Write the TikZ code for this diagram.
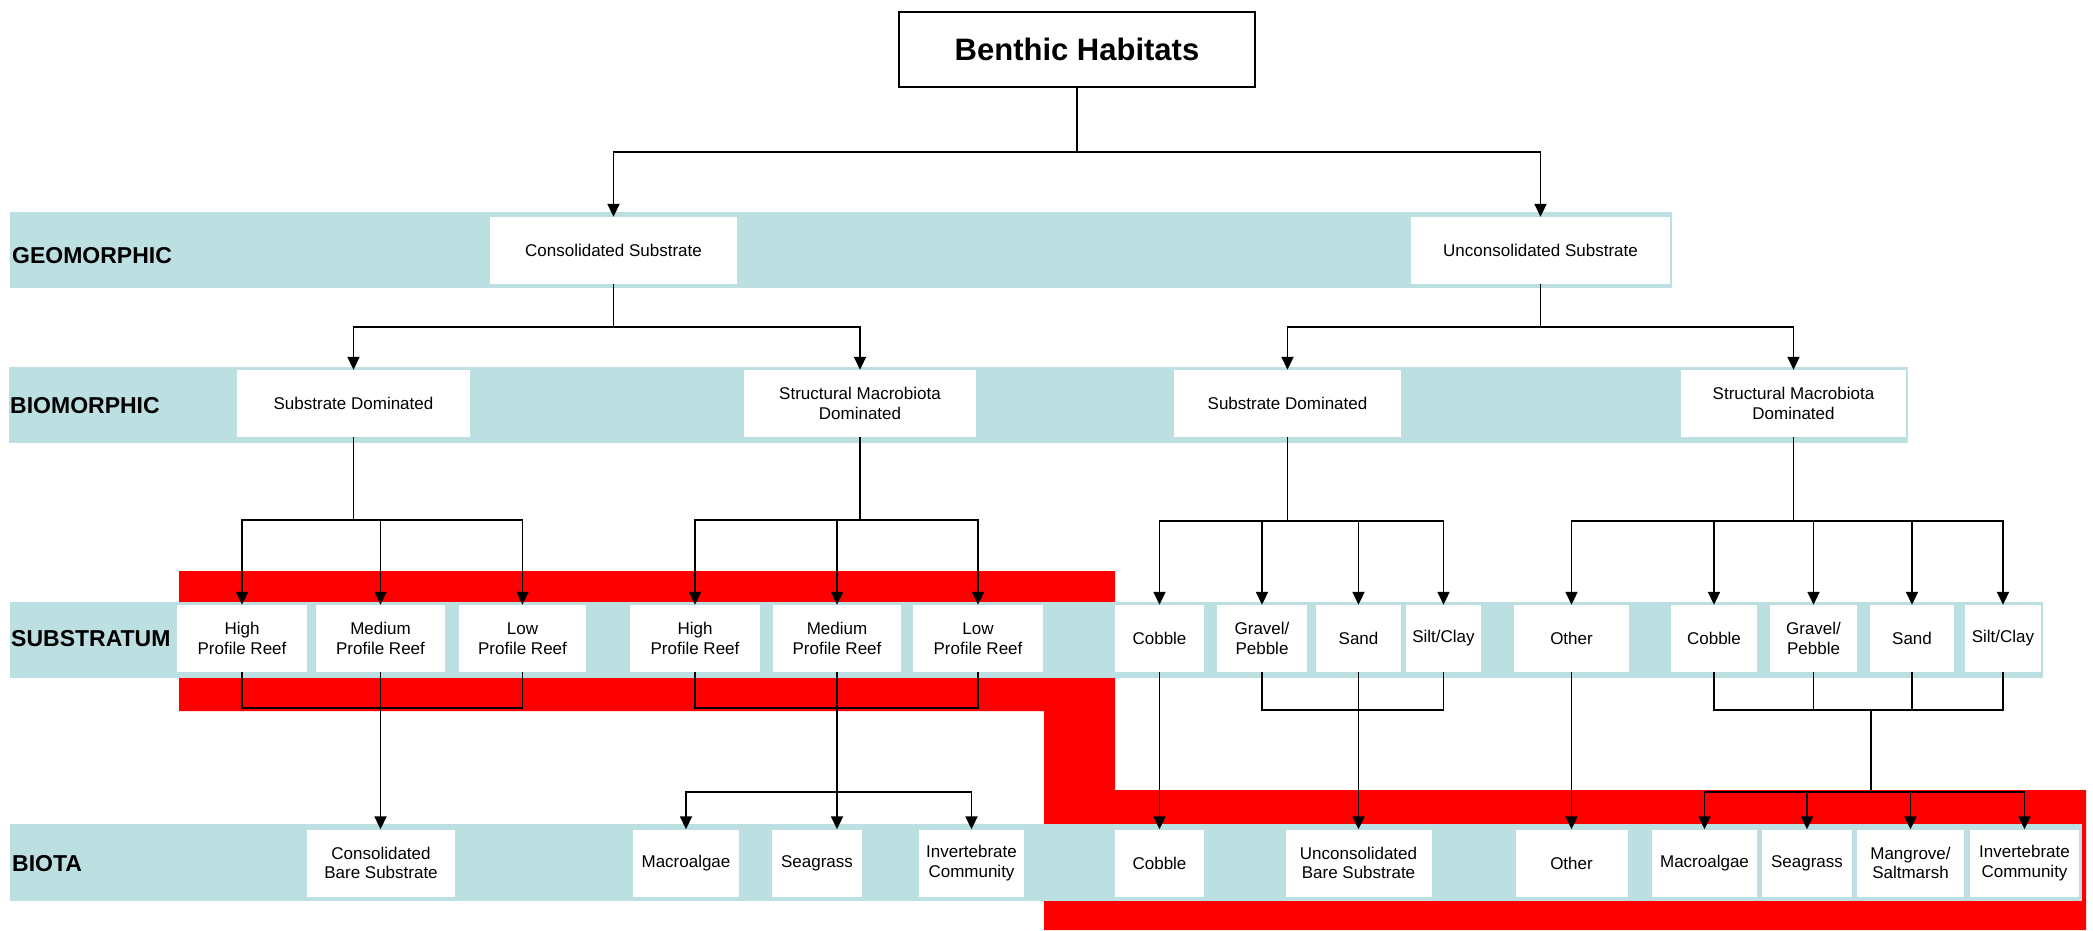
\documentclass[tikz,border=0pt]{standalone}
\usepackage{fontspec}
\setmainfont{Liberation Sans}
\usepackage{tikz}
\usetikzlibrary{arrows.meta, calc}
\definecolor{bandcolor}{RGB}{188,223,226}
\definecolor{redzone}{RGB}{255,0,0}

\begin{document}
\begin{tikzpicture}[
    x=1pt, y=-1pt,
    band/.style={fill=bandcolor, draw=none},
    level/.style={anchor=west, inner sep=0pt, font=\fontsize{23}{27}\selectfont\bfseries},
    class/.style={fill=white, inner sep=0pt, minimum height=67pt, align=center, font=\fontsize{17}{19.5}\selectfont},
    arrow/.style={-{Triangle[length=13pt, width=12pt]}, line width=1.8pt},
    link/.style={line width=1.8pt}
]
    \useasboundingbox (0,0) rectangle (2093,930);

    % Highlighted zone
    \fill[redzone] (179,571) -- (1115,571) -- (1115,790) -- (2086,790) -- (2086,930)
        -- (1044,930) -- (1044,711) -- (179,711) -- cycle;

    % Level bands
    \fill[band] (10,212) rectangle (1672,288);
    \fill[band] (9,367) rectangle (1908,443);
    \fill[band] (10,602) rectangle (2043,678);
    \fill[band] (10,824) rectangle (2082,901);

    \node[level] (geo) at (12,256) {GEOMORPHIC};
    \node[level] (bio) at (10,406) {BIOMORPHIC};
    \node[level] (substr) at (11,639) {SUBSTRATUM};
    \node[level] (biota) at (12,864) {BIOTA};

    % Root
    \node[draw, line width=1.8pt, fill=white, minimum width=356pt, minimum height=75pt,
        font=\fontsize{31}{36}\selectfont\bfseries] (title) at (1077,49.5) {Benthic Habitats};

    % Geomorphic classes
    \node[class, minimum width=247pt] (cons) at (613.5,250.5) {Consolidated Substrate};
    \node[class, minimum width=259pt] (uncons) at (1540.5,250.5) {Unconsolidated Substrate};

    % Biomorphic classes
    \node[class, minimum width=233pt] (subL) at (353.5,403.5) {Substrate Dominated};
    \node[class, minimum width=232pt] (strL) at (860,403.5) {Structural Macrobiota\\Dominated};
    \node[class, minimum width=227pt] (subR) at (1287.5,403.5) {Substrate Dominated};
    \node[class, minimum width=225pt] (strR) at (1793.5,403.5) {Structural Macrobiota\\Dominated};

    % Substratum classes
    \node[class, minimum width=130pt] (highA) at (242,638.5) {High\\Profile Reef};
    \node[class, minimum width=129pt] (medA) at (380.5,638.5) {Medium\\Profile Reef};
    \node[class, minimum width=127pt] (lowA) at (522.5,638.5) {Low\\Profile Reef};
    \node[class, minimum width=130pt] (highB) at (695,638.5) {High\\Profile Reef};
    \node[class, minimum width=128pt] (medB) at (837,638.5) {Medium\\Profile Reef};
    \node[class, minimum width=130pt] (lowB) at (978,638.5) {Low\\Profile Reef};
    \node[class, minimum width=89pt] (cobA) at (1159.5,638.5) {Cobble};
    \node[class, minimum width=90pt] (gravA) at (1262,638.5) {Gravel/\\Pebble};
    \node[class, minimum width=85pt] (sandA) at (1358.5,638.5) {Sand};
    \node[class, minimum width=75pt] (siltA) at (1443.5,638.5) {Silt/Clay};
    \node[class, minimum width=115pt] (othA) at (1571.5,638.5) {Other};
    \node[class, minimum width=86pt] (cobB) at (1714,638.5) {Cobble};
    \node[class, minimum width=87pt] (gravB) at (1813.5,638.5) {Gravel/\\Pebble};
    \node[class, minimum width=84pt] (sandB) at (1912,638.5) {Sand};
    \node[class, minimum width=76pt] (siltB) at (2003,638.5) {Silt/Clay};

    % Biota classes
    \node[class, minimum width=148pt] (cbs) at (381,863) {Consolidated\\Bare Substrate};
    \node[class, minimum width=106pt] (macA) at (686,863) {Macroalgae};
    \node[class, minimum width=90pt] (seaA) at (817,863) {Seagrass};
    \node[class, minimum width=105pt] (invA) at (971.5,863) {Invertebrate\\Community};
    \node[class, minimum width=89pt] (cobC) at (1159.5,863) {Cobble};
    \node[class, minimum width=146pt] (ubs) at (1358.5,863) {Unconsolidated\\Bare Substrate};
    \node[class, minimum width=112pt] (othC) at (1571.5,863) {Other};
    \node[class, minimum width=105pt] (macB) at (1704.5,863) {Macroalgae};
    \node[class, minimum width=90pt] (seaB) at (1807,863) {Seagrass};
    \node[class, minimum width=107pt] (manB) at (1910.5,863) {Mangrove/\\Saltmarsh};
    \node[class, minimum width=109pt] (invB) at (2024.5,863) {Invertebrate\\Community};

    % Root to geomorphic
    \coordinate (busT) at (1077,152);
    \draw[link] (title) -- (busT);
    \draw[arrow] (busT) -| (cons);
    \draw[arrow] (busT) -| (uncons);

    % Geomorphic to biomorphic
    \coordinate (busC) at (613.5,327);
    \draw[link] (cons) -- (busC);
    \draw[arrow] (busC) -| (subL);
    \draw[arrow] (busC) -| (strL);
    \coordinate (busU) at (1540.5,327);
    \draw[link] (uncons) -- (busU);
    \draw[arrow] (busU) -| (subR);
    \draw[arrow] (busU) -| (strR);

    % Biomorphic to substratum
    \coordinate (busSL) at (353.5,520);
    \draw[link] (subL) -- (busSL);
    \draw[arrow] (busSL) -| (highA);
    \draw[arrow] (busSL) -| (medA);
    \draw[arrow] (busSL) -| (lowA);
    \coordinate (busML) at (860,520);
    \draw[link] (strL) -- (busML);
    \draw[arrow] (busML) -| (highB);
    \draw[arrow] (busML) -| (medB);
    \draw[arrow] (busML) -| (lowB);
    \coordinate (busSR) at (1287.5,521);
    \draw[link] (subR) -- (busSR);
    \draw[arrow] (busSR) -| (cobA);
    \draw[arrow] (busSR) -| (gravA);
    \draw[arrow] (busSR) -| (sandA);
    \draw[arrow] (busSR) -| (siltA);
    \coordinate (busMR) at (1793.5,521);
    \draw[link] (strR) -- (busMR);
    \draw[arrow] (busMR) -| (othA);
    \draw[arrow] (busMR) -| (cobB);
    \draw[arrow] (busMR) -| (gravB);
    \draw[arrow] (busMR) -| (sandB);
    \draw[arrow] (busMR) -| (siltB);

    % Substratum to biota
    \coordinate (barA) at (380.5,708);
    \draw[link] (highA) |- (barA) -| (lowA);
    \draw[arrow] (medA) -- (medA |- cbs.north);

    \coordinate (barB) at (837,708);
    \coordinate (splitB) at (837,792);
    \draw[link] (highB) |- (barB) -| (lowB);
    \draw[link] (medB) -- (splitB);
    \draw[arrow] (splitB) -| (macA);
    \draw[arrow] (splitB) -- (splitB |- seaA.north);
    \draw[arrow] (splitB) -| (invA);

    \draw[arrow] (cobA) -- (cobC);
    \coordinate (barC) at (1358.5,710);
    \draw[link] (gravA) |- (barC) -| (siltA);
    \draw[arrow] (sandA) -- (ubs);
    \draw[arrow] (othA) -- (othC);

    \coordinate (barD) at (1871,710);
    \coordinate (splitD) at (1871,792);
    \draw[link] (cobB) |- (barD) -| (siltB);
    \draw[link] (gravB) -- (gravB |- barD);
    \draw[link] (sandB) -- (sandB |- barD);
    \draw[link] (barD) -- (splitD);
    \draw[arrow] (splitD) -| (macB);
    \draw[arrow] (splitD) -| (seaB);
    \draw[arrow] (splitD) -| (manB);
    \draw[arrow] (splitD) -| (invB);
\end{tikzpicture}
\end{document}
